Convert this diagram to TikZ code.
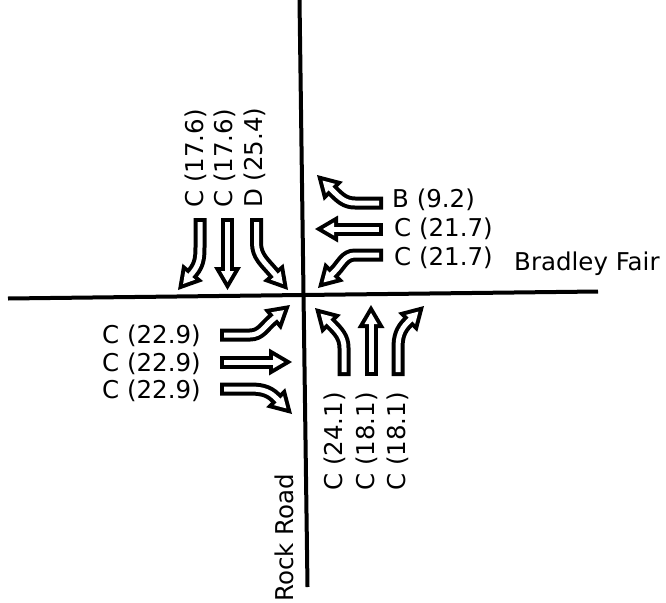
\documentclass[tikz,border=0pt]{standalone}
\usepackage{fontspec}
\setmainfont{DejaVu Sans}
\usetikzlibrary{calc}
\tikzset{
  road/.style={line width=4pt, line cap=butt},
  lbl/.style={inner sep=0pt, font=\fontsize{24.5}{29}\selectfont},
  rdname/.style={inner sep=0pt, font=\fontsize{24.5}{29}\selectfont},
  shaftout/.style={line width=13pt, black},
  shaftin/.style={line width=5pt, white, shorten <=4pt},
}
% #1 path from tail to (hB), #2 base point, #3 tip point
\newcommand\hollowarrow[3]{%
  \coordinate (hB) at #2;
  \coordinate (hP) at #3;
  \coordinate (hE) at ($(hB)!6pt!(hP)$);
  \coordinate (hBi) at ($(hB)!4pt!(hP)$);
  \coordinate (hPi) at ($(hP)!7.9pt!(hB)$);
  \draw[shaftout] #1 -- (hE);
  \fill[black] (hP) -- ($(hB)!13.5pt!90:(hP)$) -- ($(hB)!13.5pt!-90:(hP)$) -- cycle;
  \draw[shaftin] #1 -- (hE);
  \fill[white] (hPi) -- ($(hBi)!6.5pt!90:(hP)$) -- ($(hBi)!6.5pt!-90:(hP)$) -- cycle;
}
\begin{document}
\begin{tikzpicture}[x=1pt, y=-1pt]
\useasboundingbox[fill=white] (0,0) rectangle (666,602);
% roads
\coordinate (vtop) at (299.5,0);
\coordinate (vbot) at (307.5,587);
\coordinate (hleft) at (8,298.5);
\coordinate (hright) at (598,291.5);
\draw[road] (vtop) -- (vbot);
\draw[road] (hleft) -- (hright);
% southbound
\hollowarrow{(200,218) -- (200,243) to[out=-90,in=50] (hB)}{(192.8,272.4)}{(178,290)}
\hollowarrow{(227.5,218) -- (hB)}{(227.5,267)}{(227.5,290)}
\hollowarrow{(256.5,218) -- (256.5,243) to[out=-90,in=130] (hB)}{(273.2,272.4)}{(288,290)}
% westbound
\hollowarrow{(383,203) -- (355,203) to[out=180,in=-45] (hB)}{(333.3,191.3)}{(317,175)}
\hollowarrow{(383,229) -- (hB)}{(338,229)}{(315,229)}
\hollowarrow{(383,255) -- (355,255) to[out=180,in=45] (hB)}{(334.3,271.7)}{(318,288)}
% eastbound
\hollowarrow{(220,335) -- (250,335) to[out=0,in=-140] (hB)}{(272.4,319.8)}{(290,305)}
\hollowarrow{(220,362) -- (hB)}{(269,362)}{(292,362)}
\hollowarrow{(220,389) -- (248,389) to[out=0,in=135] (hB)}{(275.7,397.7)}{(292,414)}
% northbound
\hollowarrow{(344,376) -- (344,348) to[out=90,in=-45] (hB)}{(331.3,324.3)}{(315,308)}
\hollowarrow{(371,376) -- (hB)}{(371,328)}{(371,305)}
\hollowarrow{(398,376) -- (398,348) to[out=90,in=-135] (hB)}{(407.7,322.3)}{(424,306)}
% labels southbound
\node[lbl, rotate=90, anchor=base west] (sb1) at (203.5,208) {C (17.6)};
\node[lbl, rotate=90, anchor=base west] (sb2) at (232.5,208) {C (17.6)};
\node[lbl, rotate=90, anchor=base west] (sb3) at (262.5,208) {D (25.4)};
% labels northbound
\node[lbl, rotate=90, anchor=base west] (nb1) at (342,491) {C (24.1)};
\node[lbl, rotate=90, anchor=base west] (nb2) at (374,491) {C (18.1)};
\node[lbl, rotate=90, anchor=base west] (nb3) at (405,491) {C (18.1)};
% labels eastbound
\node[lbl, anchor=base east] (eb1) at (201,343) {C (22.9)};
\node[lbl, anchor=base east] (eb2) at (201,371) {C (22.9)};
\node[lbl, anchor=base east] (eb3) at (201,398) {C (22.9)};
% labels westbound
\node[lbl, anchor=base west] (wb1) at (392,207) {B (9.2)};
\node[lbl, anchor=base west] (wb2) at (394,236) {C (21.7)};
\node[lbl, anchor=base west] (wb3) at (394,265) {C (21.7)};
% road names
\node[rdname, anchor=base west] (bradley) at (514,270) {Bradley Fair};
\node[rdname, rotate=90, anchor=base west] (rock) at (293,602) {Rock Road};
\end{tikzpicture}
\end{document}
